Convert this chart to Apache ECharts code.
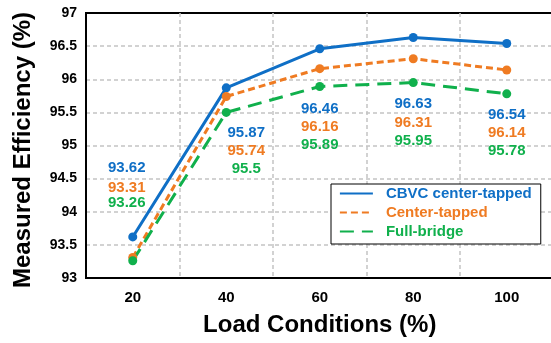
<!DOCTYPE html>
<html>
<head>
<meta charset="utf-8">
<script src="https://cdn.jsdelivr.net/npm/echarts@6/dist/echarts.min.js"></script>
<style>
  html, body { margin: 0; padding: 0; background: #fff; }
  #chart { width: 551px; height: 343px; }
</style>
</head>
<body>
<div id="chart"></div>
<script>
const loads = [20, 40, 60, 80, 100]
const cbvc = [93.62, 95.87, 96.46, 96.63, 96.54]
const centerTapped = [93.31, 95.74, 96.16, 96.31, 96.14]
const fullBridge = [93.26, 95.5, 95.89, 95.95, 95.78]

const FONT = '"Liberation Sans", Arial, sans-serif'
const BLUE = '#0f6fc6'
const ORANGE = '#ef7b22'
const GREEN = '#10b04c'

// label placement (px offset from each point)
const offsets = {
  cbvc: [[-6, -69], [20, 45], [0, 60], [0, 66], [0, 71]],
  center: [[-6, -70], [20, 54], [0, 58], [0, 64], [0, 63]],
  full: [[-6, -58], [20, 56], [0, 58], [0, 58], [0, 57]],
}

function points(values, offs, color) {
  return values.map((v, i) => ({
    value: [loads[i], v],
    label: { offset: offs[i], color },
  }))
}

function lineSeries(name, values, offs, color, type) {
  return {
    name,
    type: 'line',
    data: points(values, offs, color),
    symbol: 'circle',
    symbolSize: 9,
    itemStyle: { color },
    lineStyle: { color, width: 3, type },
    label: {
      show: true,
      position: 'inside',
      fontFamily: FONT,
      fontWeight: 'bold',
      fontSize: 15,
      formatter: p => String(p.value[1]),
    },
    z: 3,
  }
}

const chart = echarts.init(document.getElementById('chart'), null, { renderer: 'canvas' })
chart.setOption({
  animation: false,
  backgroundColor: '#fff',
  textStyle: { fontFamily: FONT },
  grid: {
    left: 86, top: 13, width: 467.5, height: 265,
    containLabel: false,
    outerBoundsMode: 'none',
    show: true, borderColor: '#000', borderWidth: 2, backgroundColor: '#fff',
  },
  xAxis: {
    type: 'value',
    min: 10, max: 110, interval: 10,
    name: 'Load Conditions (%)',
    nameLocation: 'middle',
    nameGap: 35,
    nameTextStyle: { fontFamily: FONT, fontWeight: 'bold', fontSize: 24, color: '#000' },
    axisLine: { lineStyle: { color: '#000', width: 2 } },
    axisTick: { show: false },
    axisLabel: {
      margin: 12, color: '#000', fontWeight: 'bold', fontSize: 15,
      formatter: v => (v % 20 === 0 && v >= 20 && v <= 100 ? String(v) : ''),
    },
    splitLine: {
      show: true,
      showMinLine: false,
      showMaxLine: false,
      lineStyle: { color: ['rgba(0,0,0,0)', '#c3c3c3'], width: 1.5, type: [4, 3] },
    },
  },
  yAxis: {
    type: 'value',
    min: 93, max: 97, interval: 0.5,
    name: 'Measured Efficiency (%)',
    nameLocation: 'middle',
    nameGap: 51,
    nameTextStyle: {
      fontFamily: FONT, fontWeight: 'bold', fontSize: 24, color: '#000',
      padding: [0, 9, 0, 0],
    },
    axisLine: { show: true, lineStyle: { color: '#000', width: 2 } },
    axisTick: { show: false },
    axisLabel: { margin: 9, color: '#000', fontWeight: 'bold', fontSize: 14 },
    splitLine: {
      showMinLine: false,
      showMaxLine: false,
      lineStyle: { color: '#c3c3c3', width: 1.5, type: [4, 3] },
    },
  },
  legend: {
    orient: 'vertical',
    left: 331, top: 184,
    padding: [2, 9, 5, 8],
    itemGap: 4,
    itemWidth: 33,
    itemHeight: 14,
    backgroundColor: '#fff',
    borderColor: '#000',
    borderWidth: 1,
    borderRadius: 0,
    itemStyle: { opacity: 0 },
    lineStyle: { width: 1.8 },
    textStyle: { fontFamily: FONT, fontWeight: 'bold', fontSize: 15, padding: [0, 0, 0, 8] },
    data: [
      { name: 'CBVC center-tapped', textStyle: { color: BLUE } },
      { name: 'Center-tapped', textStyle: { color: ORANGE } },
      { name: 'Full-bridge', textStyle: { color: GREEN } },
    ],
  },
  series: [
    lineSeries('CBVC center-tapped', cbvc, offsets.cbvc, BLUE, 'solid'),
    lineSeries('Center-tapped', centerTapped, offsets.center, ORANGE, [7, 4]),
    lineSeries('Full-bridge', fullBridge, offsets.full, GREEN, [14, 8]),
  ],
})
</script>
</body>
</html>
